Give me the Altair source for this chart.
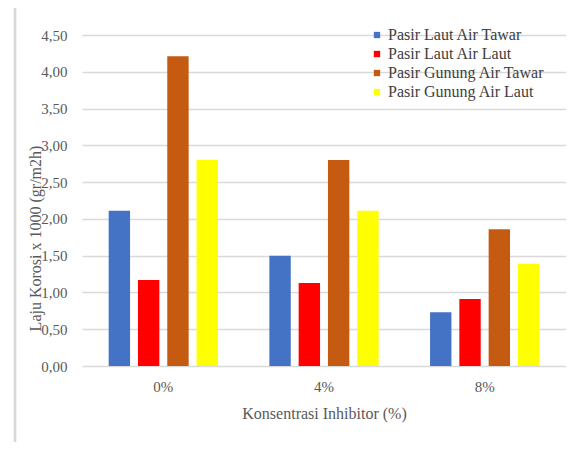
import altair as alt
import pandas as pd

categories = ["0%", "4%", "8%"]
series = ["Pasir Laut Air Tawar", "Pasir Laut Air Laut", "Pasir Gunung Air Tawar", "Pasir Gunung Air Laut"]
colors = ["#4472C4", "#FF0000", "#C55A11", "#FFFF00"]
pasir_laut_air_tawar = [2.11, 1.50, 0.73]
pasir_laut_air_laut = [1.17, 1.13, 0.91]
pasir_gunung_air_tawar = [4.21, 2.80, 1.86]
pasir_gunung_air_laut = [2.80, 2.11, 1.39]
y_ticks = [0, 0.5, 1.0, 1.5, 2.0, 2.5, 3.0, 3.5, 4.0, 4.5]

rows = []
for s, vals in zip(series, [pasir_laut_air_tawar, pasir_laut_air_laut, pasir_gunung_air_tawar, pasir_gunung_air_laut]):
    for c, v in zip(categories, vals):
        rows.append({"Konsentrasi": c, "Seri": s, "Nilai": v})
df = pd.DataFrame(rows)

FONT = "Liberation Serif"
GREY = "#595959"

bars = alt.Chart(df).mark_bar().encode(
    x=alt.X("Konsentrasi:N", sort=categories,
            scale=alt.Scale(paddingInner=0.32, paddingOuter=0.166),
            axis=alt.Axis(title="Konsentrasi Inhibitor (%)", labelAngle=0, domain=False, ticks=False,
                          labelPadding=13, labelFont=FONT, labelFontSize=15, labelColor=GREY,
                          titleFont=FONT, titleFontSize=16, titleColor=GREY, titleFontWeight="normal",
                          titleY=47, titleBaseline="middle")),
    xOffset=alt.XOffset("Seri:N", sort=series, scale=alt.Scale(paddingInner=0.27, paddingOuter=0)),
    y=alt.Y("Nilai:Q", scale=alt.Scale(domain=[0, 4.5], nice=False),
            axis=alt.Axis(title="Laju Korosi x 1000 (gr/m2h)", values=y_ticks,
                          labelExpr="replace(format(datum.value, '.2f'), '.', ',')",
                          domain=False, ticks=False, labelPadding=15,
                          labelFont=FONT, labelFontSize=15, labelColor=GREY,
                          gridColor="#d9d9d9", gridWidth=1.5,
                          titleFont=FONT, titleFontSize=16, titleColor=GREY, titleFontWeight="normal",
                          titleX=-47, titleY=203, titleBaseline="middle", titleAngle=-90)),
    color=alt.Color("Seri:N", sort=series, scale=alt.Scale(domain=series, range=colors),
                    legend=alt.Legend(title=None, orient="none", legendX=287, legendY=-8,
                                      symbolType="square", symbolSize=40, symbolStrokeWidth=0,
                                      labelFont=FONT, labelFontSize=16, labelColor="#404040",
                                      labelOffset=3, rowPadding=3, padding=0)),
)

frame_df = pd.DataFrame({"k": [0]})
left_line = alt.Chart(frame_df).mark_rule(color="#d9d9d9", strokeWidth=2.7).encode(
    x=alt.value(-67), y=alt.value(-29), y2=alt.value(430))
top_line = alt.Chart(frame_df).mark_rule(color="#d9d9d9", strokeWidth=2.7).encode(
    x=alt.value(-68), x2=alt.value(500), y=alt.value(-29))

chart = alt.layer(bars, left_line, top_line).properties(
    width=484, height=331,
    padding={"left": 74, "top": 27, "right": 0, "bottom": 76},
    autosize=alt.AutoSizeParams(type="none"),
).configure_view(stroke=None)

chart.save("out.html", embed_options={"renderer": "svg", "actions": False})
